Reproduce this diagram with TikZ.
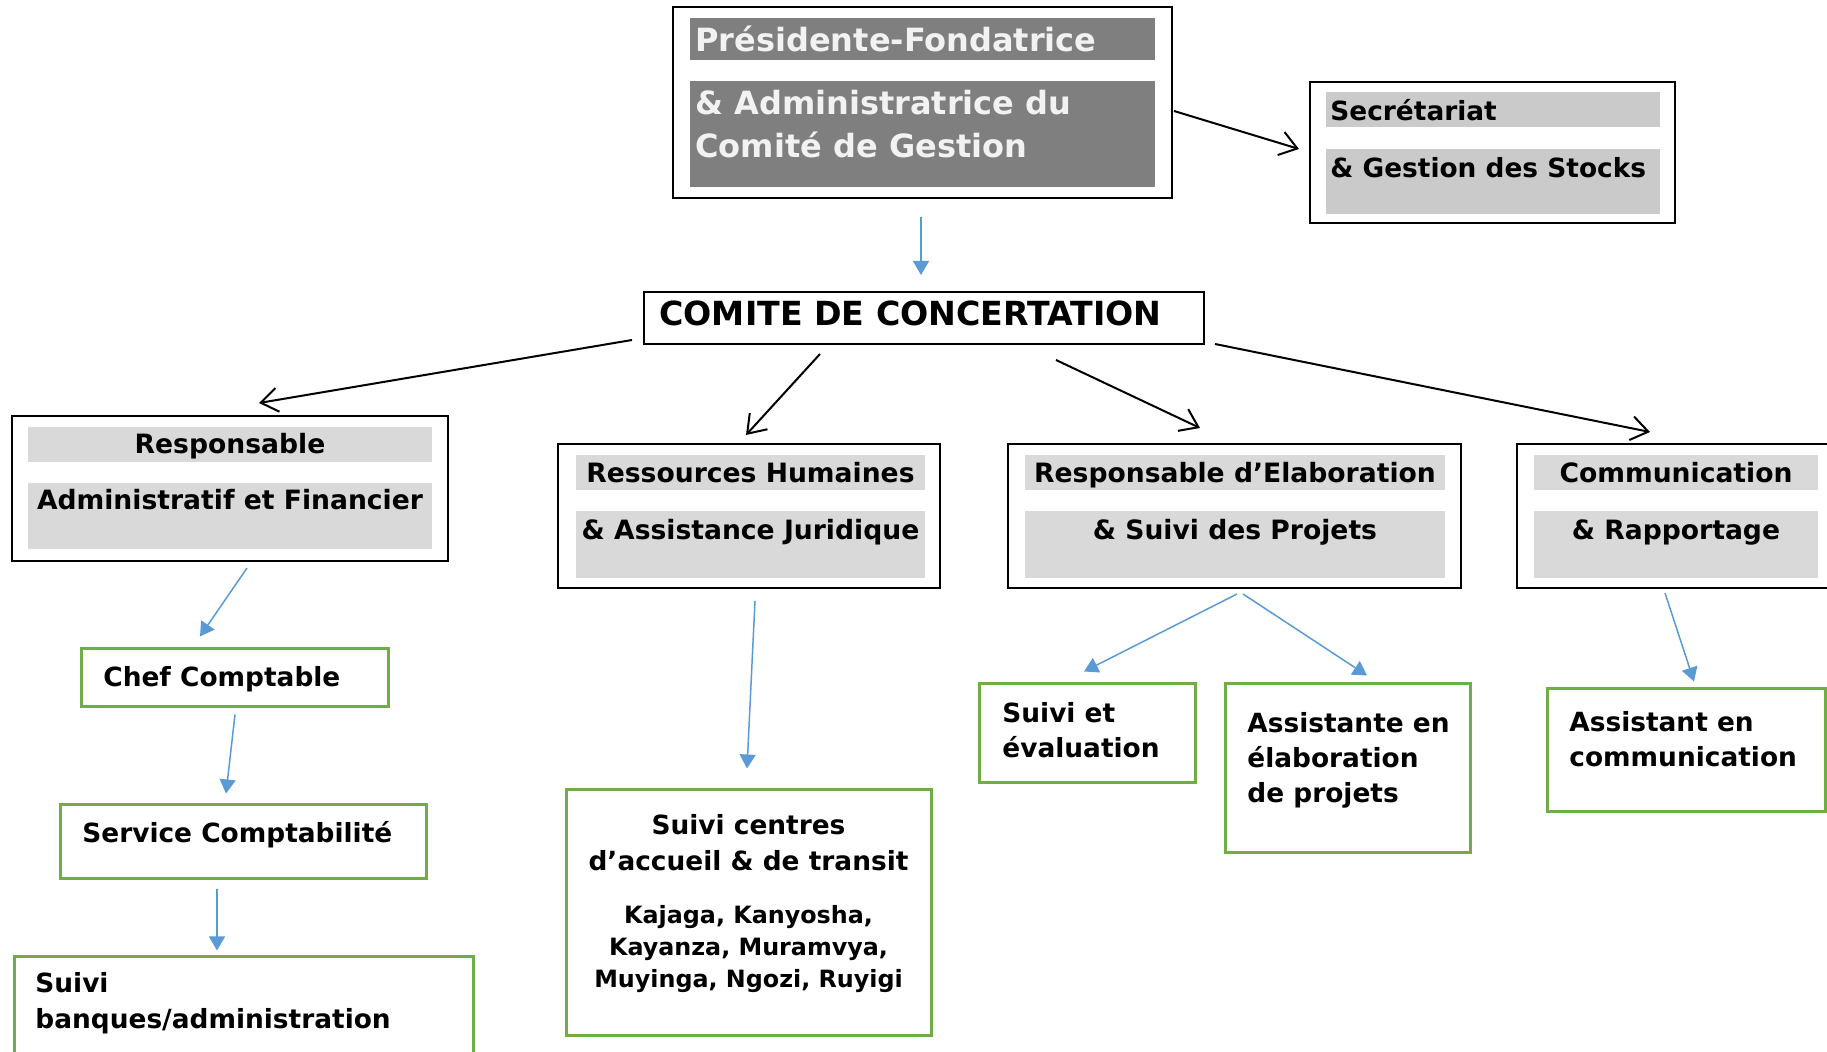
\documentclass[tikz,border=0pt]{standalone}
\usepackage{fontspec}
\setmainfont{DejaVu Sans}
\usetikzlibrary{arrows.meta,calc,fit}
\definecolor{grn}{HTML}{70AD47}
\definecolor{blu}{HTML}{5B9BD5}
\definecolor{dkg}{HTML}{7F7F7F}
\definecolor{ltg}{HTML}{D9D9D9}
\definecolor{mdg}{HTML}{CACACA}
\definecolor{wtx}{HTML}{F2F2F2}
\begin{document}
\begin{tikzpicture}[x=0.5pt,y=-0.5pt,
  blackbox/.style={draw=black,line width=1pt,inner sep=0pt},
  greenbox/.style={draw=grn,line width=1.5pt,inner sep=0pt},
  blk/.style={draw=black,line width=1pt,-{Straight Barb[length=8.5pt,width=12pt,line width=1pt]}},
  bla/.style={draw=blu,line width=0.75pt,-{Triangle[length=7pt,width=8pt]}},
  lt/.style={anchor=base west,inner sep=0pt,font=\bfseries\fontsize{13.2pt}{17pt}\selectfont},
  ct/.style={anchor=base,inner sep=0pt,font=\bfseries\fontsize{13.3pt}{17pt}\selectfont},
  big/.style={anchor=base west,inner sep=0pt,text=wtx,font=\bfseries\fontsize{16pt}{20pt}\selectfont},
  mid/.style={anchor=base,inner sep=0pt,font=\bfseries\fontsize{13.2pt}{16pt}\selectfont},
  sml/.style={anchor=base,inner sep=0pt,font=\bfseries\fontsize{11.9pt}{14pt}\selectfont}]
\useasboundingbox (0,0) rectangle (1827,1052);
\fill[white] (0,0) rectangle (1827,1052);

% ---------- top box
\node[blackbox,fit={(673,7)(1172,198)}] (top) {};
\fill[dkg] (690,18) rectangle (1155,60);
\fill[dkg] (690,81) rectangle (1155,187);
\node[big] (top1) at (695,52) {Présidente-Fondatrice};
\node[big] (top2) at (695,115) {\& Administratrice du};
\node[big] (top3) at (695,158) {Comité de Gestion};

% ---------- secretariat
\node[blackbox,fit={(1310,82)(1675,223)}] (sec) {};
\fill[mdg] (1326,92) rectangle (1660,127);
\fill[mdg] (1326,149) rectangle (1660,214);
\node[lt] (sec1) at (1330,120.5) {Secrétariat};
\node[lt] (sec2) at (1330,177.5) {\& Gestion des Stocks};

% ---------- comite
\node[blackbox,fit={(644,292)(1204,344)}] (comite) {};
\node[anchor=base west,inner sep=0pt,font=\bfseries\fontsize{16.6pt}{20pt}\selectfont] (com1) at (659,326) {COMITE DE CONCERTATION};

% ---------- second level
\node[blackbox,fit={(12,416)(448,561)}] (resp) {};
\fill[ltg] (28,427) rectangle (432,462);
\fill[ltg] (28,483) rectangle (432,549);
\node[ct] (resp1) at (230,454) {Responsable};
\node[ct] (resp2) at (230,510) {Administratif et Financier};

\node[blackbox,fit={(558,444)(940,588)}] (ress) {};
\fill[ltg] (576,455) rectangle (925,490);
\fill[ltg] (576,511) rectangle (925,578);
\node[ct] (ress1) at (750.5,483) {Ressources Humaines};
\node[ct] (ress2) at (750.5,540) {\& Assistance Juridique};

\node[blackbox,fit={(1008,444)(1461,588)}] (elab) {};
\fill[ltg] (1025,455) rectangle (1445,490);
\fill[ltg] (1025,511) rectangle (1445,578);
\node[ct] (elab1) at (1235,483) {Responsable d’Elaboration};
\node[ct] (elab2) at (1235,540) {\& Suivi des Projets};

\node[blackbox,fit={(1517,444)(1834,588)}] (comm) {};
\fill[ltg] (1534,455) rectangle (1818,490);
\fill[ltg] (1534,511) rectangle (1818,578);
\node[ct] (comm1) at (1676,483) {Communication};
\node[ct] (comm2) at (1676,540) {\& Rapportage};

% ---------- green boxes
\node[greenbox,fit={(81,649)(388,707)}] (chef) {};
\node[lt] (chef1) at (103,687) {Chef Comptable};
\node[greenbox,fit={(60,805)(426,879)}] (serv) {};
\node[lt] (serv1) at (82,843) {Service Comptabilité};
\node[greenbox,fit={(14,957)(473,1064)}] (banq) {};
\node[lt] (banq1) at (35,993) {Suivi};
\node[lt] (banq2) at (35,1029) {banques/administration};

\node[greenbox,fit={(566,790)(931,1035)}] (cent) {};
\node[mid] (cent1) at (748.5,835) {Suivi centres};
\node[mid] (cent2) at (748.5,871) {d’accueil \& de transit};
\node[sml] (cent3) at (748.5,924) {Kajaga, Kanyosha,};
\node[sml] (cent4) at (748.5,956) {Kayanza, Muramvya,};
\node[sml] (cent5) at (748.5,987) {Muyinga, Ngozi, Ruyigi};

\node[greenbox,fit={(979,684)(1195,783)}] (suiv) {};
\node[lt] (suiv1) at (1002,723) {Suivi et};
\node[lt] (suiv2) at (1002,758) {évaluation};

\node[greenbox,fit={(1225,684)(1470,853)}] (asst) {};
\node[lt] (asst1) at (1247,733) {Assistante en};
\node[lt] (asst2) at (1247,768) {élaboration};
\node[lt] (asst3) at (1247,803) {de projets};

\node[greenbox,fit={(1547,689)(1825,812)}] (acom) {};
\node[lt] (acom1) at (1569,732) {Assistant en};
\node[lt] (acom2) at (1569,767) {communication};

% ---------- black connectors
\draw[blk] ($(top.east)+(1,8.5)$) -- ($(sec.west)+(-10,-3.5)$);
\draw[blk] ($(comite.west)+(-11,22)$) -- ($(resp.north)+(29,-12)$);
\draw[blk] ($(comite.south)+(-104,9)$) -- ($(ress.north)+(-3,-8)$);
\draw[blk] ($(comite.south)+(132,15)$) -- ($(elab.north)+(-34.5,-15)$);
\draw[blk] ($(comite.east)+(10,26)$) -- ($(comm.north)+(-25.5,-11)$);

% ---------- blue connectors
\draw[bla] ($(top.south)+(-1.5,18)$) -- ($(comite.north)+(-3,-16)$);
\draw[bla] ($(resp.south)+(17,6)$) -- ($(chef.north)+(-34.5,-11)$);
\draw[bla] ($(chef.south)+(0.5,6)$) -- ($(serv.north)+(-17,-10)$);
\draw[bla] ($(serv.south)+(-26,9)$) -- ($(banq.north)+(-26.5,-5)$);
\draw[bla] ($(ress.south)+(6,12)$) -- ($(cent.north)+(-1.5,-20)$);
\draw[bla] ($(elab.south)+(2.5,5)$) -- ($(suiv.north)+(-3,-11)$);
\draw[bla] ($(elab.south)+(8.5,5)$) -- ($(asst.north)+(19.5,-7)$);
\draw[bla] ($(comm.south)+(-10.5,4)$) -- ($(acom.north)+(8,-6)$);
\end{tikzpicture}
\end{document}
